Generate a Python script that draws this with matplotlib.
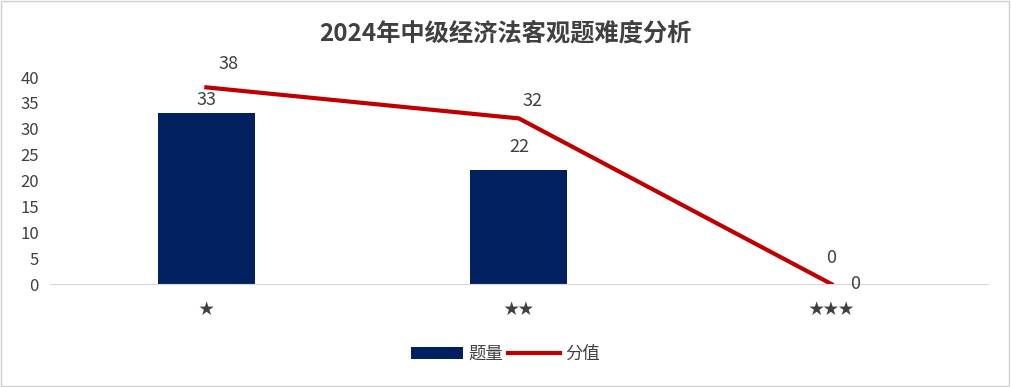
import numpy as np
import matplotlib
matplotlib.use("Agg")
import matplotlib.pyplot as plt

plt.rcParams['font.family'] = ['Noto Sans CJK SC', 'DejaVu Sans']

categories = ['★', '★★', '★★★']
counts = [33, 22, 0]      # 题量
scores = [38, 32, 0]      # 分值
count_offsets = [(0, 9.5), (0, 17), (0, 19)]
score_offsets = [(16, 17), (9.5, 12.5), (17, 0)]

navy = '#002060'
red = '#C00000'
txt = '#404040'

fig = plt.figure(figsize=(10.11, 3.87), dpi=100)
ax = fig.add_axes([0.0495, 0.266, 0.9275, 0.535])

x = np.arange(len(categories))
ax.bar(x, counts, width=0.31, color=navy, label='题量', zorder=2)
ax.plot(x, scores, color=red, lw=3, label='分值', zorder=3)

for xi, v, off in zip(x, counts, count_offsets):
    ax.annotate(str(v), (xi, v), xytext=off, textcoords='offset points',
                ha='center', va='center', fontsize=13, color=txt)
for xi, v, off in zip(x, scores, score_offsets):
    ax.annotate(str(v), (xi, v), xytext=off, textcoords='offset points',
                ha='center', va='center', fontsize=13, color=txt)

ax.set_xlim(-0.5, 2.5)
ax.set_ylim(0, 40)
ax.set_yticks(range(0, 41, 5))
ax.set_xticks(x)
ax.set_xticklabels(categories, fontsize=11, color=txt)
ax.tick_params(axis='y', length=0, labelsize=12, labelcolor=txt, pad=8)
ax.tick_params(axis='x', length=0, pad=12)
for s in ['top', 'right', 'left']:
    ax.spines[s].set_visible(False)
ax.spines['bottom'].set_color('#d9d9d9')

fig.suptitle('2024年中级经济法客观题难度分析', y=0.945, fontsize=17.5,
             fontweight='bold', color=txt)

handles, labels = ax.get_legend_handles_labels()
order = [labels.index('题量'), labels.index('分值')]
fig.legend([handles[i] for i in order], [labels[i] for i in order],
           loc='center', bbox_to_anchor=(0.5, 0.085), ncol=2, frameon=False,
           fontsize=12.5, labelcolor=txt, handlelength=3, handletextpad=0.3,
           columnspacing=0.3)

fig.patches.append(plt.Rectangle((0.001, 0.002), 0.997, 0.995, transform=fig.transFigure,
                                 fill=False, edgecolor='#d0d0d0', lw=1))

fig.savefig('out.png', dpi=100)
